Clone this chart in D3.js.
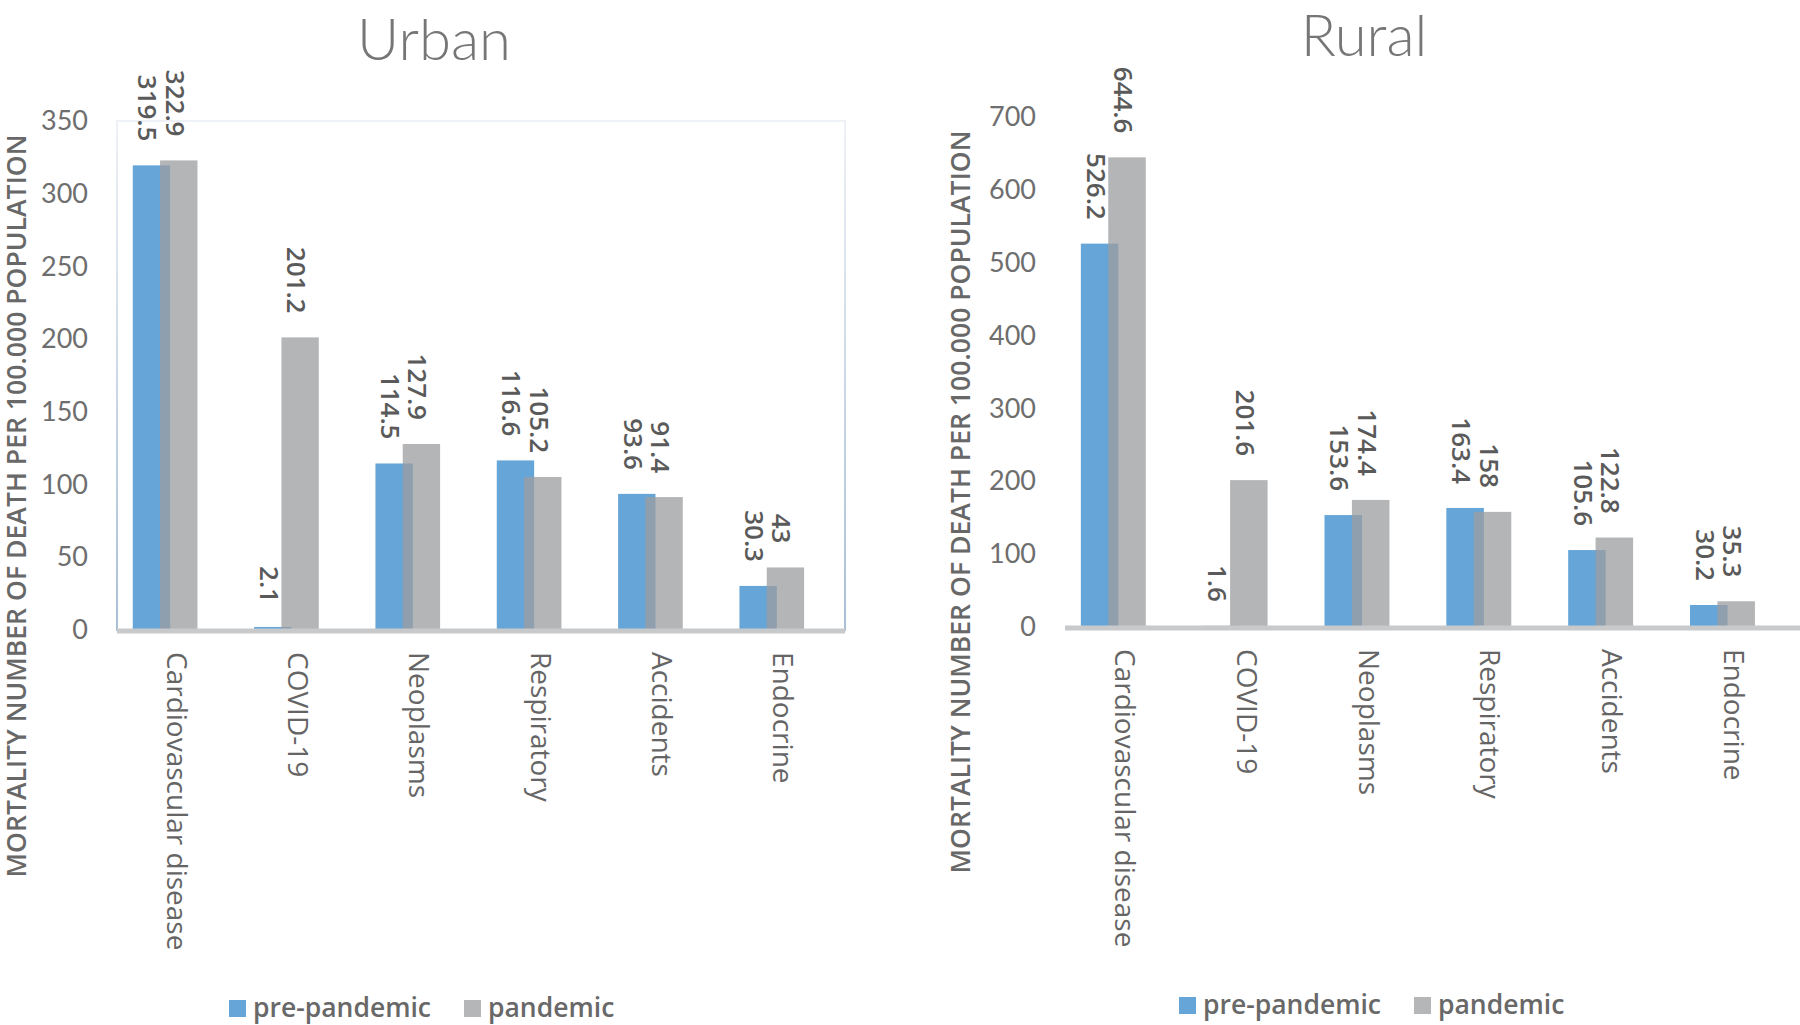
<!DOCTYPE html>
<html>
<head>
<meta charset="utf-8">
<script src="https://cdn.jsdelivr.net/npm/d3@7"></script>
<style>
    body { margin: 0; background: #fff; }
    svg text { font-family: "Open Sans", "Noto Sans", sans-serif; }
</style>
</head>
<body>
<div id="chart_area"></div>
<script>
var categories = ["Cardiovascular disease", "COVID-19", "Neoplasms", "Respiratory", "Accidents", "Endocrine"];
var seriesNames = ["pre-pandemic", "pandemic"];

var urbanPre = [319.5, 2.1, 114.5, 116.6, 93.6, 30.3];
var urbanPan = [322.9, 201.2, 127.9, 105.2, 91.4, 43];
var ruralPre = [526.2, 1.6, 153.6, 163.4, 105.6, 30.2];
var ruralPan = [644.6, 201.6, 174.4, 158, 122.8, 35.3];

var urbanTicks = [0, 50, 100, 150, 200, 250, 300, 350];
var ruralTicks = [0, 100, 200, 300, 400, 500, 600, 700];

var yTitle = "MORTALITY NUMBER OF DEATH PER 100.000 POPULATION";

var blue = "#65a5d7",
    gray = "#9c9ea0",
    grayLegend = "#b4b6b8",
    textColor = "#686868";

var svg = d3.select("#chart_area")
    .append("svg")
    .attr("width", 1800)
    .attr("height", 1025);

// light blue fade used on the urban plot border
var grad = svg.append("defs").append("linearGradient")
    .attr("id", "frameGrad")
    .attr("x1", 0).attr("y1", 0).attr("x2", 0).attr("y2", 1);
grad.append("stop").attr("offset", "0%").attr("stop-color", "#eef1f5");
grad.append("stop").attr("offset", "100%").attr("stop-color", "#a9bfd6");

function drawPanel(o) {
    var g = svg.append("g");

    var x = d3.scaleBand()
        .domain(categories)
        .range([o.left, o.right])
        .padding(0);

    var y = d3.scaleLinear()
        .domain([0, o.ticks[o.ticks.length - 1]])
        .range([o.bottom, o.top]);

    var bw = x.bandwidth(),
        barW = bw * 0.308;

    if (o.frame) {
        g.append("rect")
            .attr("x", o.left)
            .attr("y", o.top)
            .attr("width", o.right - o.left)
            .attr("height", o.bottom - o.top)
            .style("fill", "none")
            .style("stroke", "url(#frameGrad)")
            .style("stroke-width", 2);
    }

    // title
    g.append("text")
        .attr("x", o.titleX)
        .attr("y", o.titleY)
        .attr("text-anchor", "middle")
        .style("font-family", "Lato, 'Open Sans', sans-serif")
        .style("font-weight", 300)
        .style("font-size", "58px")
        .style("fill", "#767676")
        .text(o.title);

    // y axis
    var yAxis = g.append("g")
        .attr("transform", "translate(" + o.tickRight + ",0)")
        .call(d3.axisLeft(y).tickValues(o.ticks).tickSize(0).tickPadding(0));
    yAxis.select(".domain").remove();
    yAxis.selectAll("text")
        .style("font-family", "Lato, 'Open Sans', sans-serif")
        .style("font-size", "27px")
        .style("fill", "#6e6e6e");

    g.append("text")
        .attr("transform", "translate(" + o.yTitleX + "," + o.yTitleY + ") rotate(-90)")
        .attr("text-anchor", "middle")
        .attr("dominant-baseline", "central")
        .attr("textLength", 743)
        .attr("lengthAdjust", "spacingAndGlyphs")
        .style("font-size", "27px")
        .style("font-weight", 600)
        .style("fill", textColor)
        .text(yTitle);

    // bars
    var rows = categories.map(function (c, i) {
        return { cat: c, pre: o.pre[i], pan: o.pan[i] };
    });

    g.selectAll(".pre")
        .data(rows)
        .enter().append("rect")
        .attr("class", "pre")
        .attr("x", function (d) { return x(d.cat) + bw * 0.13; })
        .attr("y", function (d) { return y(d.pre); })
        .attr("width", barW)
        .attr("height", function (d) { return o.bottom - y(d.pre); })
        .style("fill", blue);

    g.selectAll(".pan")
        .data(rows)
        .enter().append("rect")
        .attr("class", "pan")
        .attr("x", function (d) { return x(d.cat) + bw * 0.355; })
        .attr("y", function (d) { return y(d.pan); })
        .attr("width", barW)
        .attr("height", function (d) { return o.bottom - y(d.pan); })
        .style("fill", gray)
        .style("opacity", 0.76);

    // x axis line
    g.append("line")
        .attr("x1", o.left)
        .attr("x2", o.axisEnd)
        .attr("y1", o.bottom + 1)
        .attr("y2", o.bottom + 1)
        .style("stroke", "#c8c9cb")
        .style("stroke-width", 5);

    // value labels, rotated
    function labels(key, off) {
        g.selectAll(".lbl-" + key)
            .data(rows)
            .enter().append("text")
            .attr("class", "lbl-" + key)
            .attr("transform", function (d) {
                var cx = x(d.cat) + bw * off + barW / 2 - 3;
                return "translate(" + cx + "," + (y(d[key]) - 24) + ") rotate(90)";
            })
            .attr("text-anchor", "end")
            .attr("dominant-baseline", "central")
            .style("font-size", "26px")
            .style("font-weight", 600)
            .style("fill", "#5a5a5a")
            .text(function (d) { return d[key]; });
    }
    labels("pre", 0.13);
    labels("pan", 0.355);

    // category labels
    g.selectAll(".cat")
        .data(categories)
        .enter().append("text")
        .attr("class", "cat")
        .attr("transform", function (d) {
            return "translate(" + (x(d) + bw / 2) + "," + (o.bottom + 22) + ") rotate(90)";
        })
        .attr("dominant-baseline", "central")
        .style("font-size", "28px")
        .style("font-weight", 500)
        .style("fill", "#656565")
        .text(function (d) { return d; });

    // legend
    var legend = g.append("g")
        .attr("transform", "translate(" + o.legendX + "," + o.legendY + ")");
    var items = [
        { name: seriesNames[0], color: blue, dx: 0 },
        { name: seriesNames[1], color: grayLegend, dx: 235 }
    ];
    var li = legend.selectAll("g")
        .data(items)
        .enter().append("g")
        .attr("transform", function (d) { return "translate(" + d.dx + ",0)"; });
    li.append("rect")
        .attr("x", 0).attr("y", -17)
        .attr("width", 17).attr("height", 17)
        .style("fill", function (d) { return d.color; });
    li.append("text")
        .attr("x", 24)
        .attr("y", 0)
        .style("font-size", "26.5px")
        .style("font-weight", 600)
        .style("fill", textColor)
        .text(function (d) { return d.name; });
}

drawPanel({
    title: "Urban", pre: urbanPre, pan: urbanPan, ticks: urbanTicks,
    left: 117, right: 845, top: 121, bottom: 630, axisEnd: 845,
    tickRight: 88, frame: true,
    titleX: 434, titleY: 60,
    yTitleX: 15, yTitleY: 506,
    legendX: 229, legendY: 1017
});

drawPanel({
    title: "Rural", pre: ruralPre, pan: ruralPan, ticks: ruralTicks,
    left: 1065, right: 1796, top: 117, bottom: 627, axisEnd: 1800,
    tickRight: 1036, frame: false,
    titleX: 1364, titleY: 56,
    yTitleX: 959, yTitleY: 502,
    legendX: 1179, legendY: 1014
});
</script>
</body>
</html>
